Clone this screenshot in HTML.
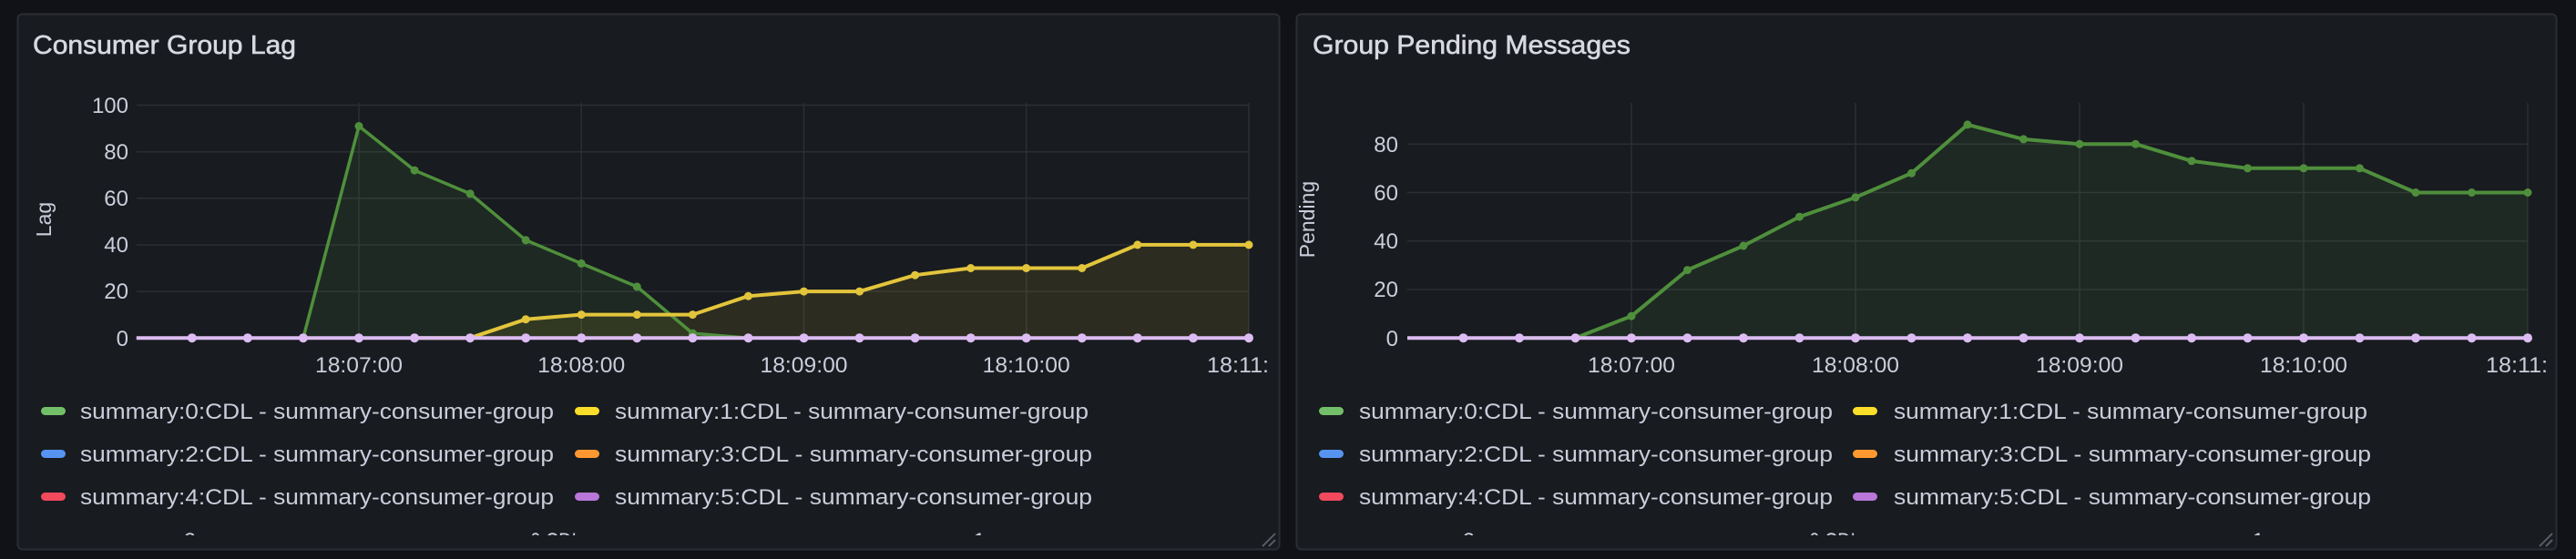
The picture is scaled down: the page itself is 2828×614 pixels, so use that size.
<!DOCTYPE html>
<html><head><meta charset="utf-8"><style>
html,body{margin:0;padding:0;background:#111217;}
svg{display:block;}
text{font-family:"Liberation Sans",sans-serif;fill:#ccccdc;}
.ttl{fill:#d8d9e0;stroke:#d8d9e0;stroke-width:0.6;}
</style></head><body>
<svg width="2828" height="614" viewBox="0 0 2828 614" xmlns="http://www.w3.org/2000/svg">
<defs>
<marker id="mg" viewBox="-6 -6 12 12" markerWidth="12" markerHeight="12" markerUnits="userSpaceOnUse"><circle r="4.5" fill="#4f8f3c"/></marker>
<marker id="my" viewBox="-6 -6 12 12" markerWidth="12" markerHeight="12" markerUnits="userSpaceOnUse"><circle r="4.5" fill="#e3c53c"/></marker>
<marker id="mp" viewBox="-6 -6 12 12" markerWidth="12" markerHeight="12" markerUnits="userSpaceOnUse"><circle r="5" fill="#dcbcf2"/></marker>
<clipPath id="c1"><rect x="20" y="16" width="1384" height="572"/></clipPath>
<clipPath id="c2"><rect x="1424" y="16" width="1382" height="572"/></clipPath>
<clipPath id="xl1"><rect x="0" y="380" width="1392" height="40"/></clipPath>
<clipPath id="xl2"><rect x="1414" y="380" width="1381" height="40"/></clipPath>
</defs>

<rect x="19.5" y="15.5" width="1385" height="588" rx="5" fill="#181b1f" stroke="#2a2d33" stroke-width="2"/>
<rect x="1423.5" y="15.5" width="1383" height="588" rx="5" fill="#181b1f" stroke="#2a2d33" stroke-width="2"/>

<!-- LEFT PANEL -->
<text class="ttl" x="36" y="59" font-size="29" textLength="289" lengthAdjust="spacingAndGlyphs">Consumer Group Lag</text>
<g stroke="#2c2e34" stroke-width="1.5">
<line x1="150" y1="115.5" x2="1371" y2="115.5"/>
<line x1="150" y1="166.7" x2="1371" y2="166.7"/>
<line x1="150" y1="217.8" x2="1371" y2="217.8"/>
<line x1="150" y1="269" x2="1371" y2="269"/>
<line x1="150" y1="320.1" x2="1371" y2="320.1"/>
<line x1="394" y1="113" x2="394" y2="376"/>
<line x1="638.2" y1="113" x2="638.2" y2="376"/>
<line x1="882.5" y1="113" x2="882.5" y2="376"/>
<line x1="1126.7" y1="113" x2="1126.7" y2="376"/>
<line x1="1371" y1="113" x2="1371" y2="376"/>
</g>
<g font-size="24" text-anchor="end">
<text x="141" y="124">100</text>
<text x="141" y="175">80</text>
<text x="141" y="226">60</text>
<text x="141" y="277">40</text>
<text x="141" y="328">20</text>
<text x="141" y="380">0</text>
</g>
<text transform="translate(56,241) rotate(-90)" font-size="23" text-anchor="middle">Lag</text>
<g font-size="24" text-anchor="middle" clip-path="url(#xl1)">
<text x="394" y="409" textLength="96" lengthAdjust="spacingAndGlyphs">18:07:00</text>
<text x="638.2" y="409" textLength="96" lengthAdjust="spacingAndGlyphs">18:08:00</text>
<text x="882.5" y="409" textLength="96" lengthAdjust="spacingAndGlyphs">18:09:00</text>
<text x="1126.7" y="409" textLength="96" lengthAdjust="spacingAndGlyphs">18:10:00</text>
<text x="1373" y="409" textLength="96" lengthAdjust="spacingAndGlyphs">18:11:00</text>
</g>
<polygon fill="rgba(86,166,75,0.10)" points="332.9,371.2 394,138.5 455.1,187.1 516.1,212.7 577.2,263.8 638.2,289.4 699.3,314.9 760.4,366.1 821.5,371.2"/>
<polygon fill="rgba(250,222,42,0.09)" points="516.1,371.2 577.2,350.7 638.2,345.6 699.3,345.6 760.4,345.6 821.5,325.2 882.5,320.1 943.6,320.1 1004.6,302.2 1065.7,294.5 1126.7,294.5 1187.8,294.5 1248.8,268.9 1309.9,268.9 1371,268.9 1371,371.2"/>
<polyline fill="none" stroke="#4f8f3c" stroke-width="3.5" stroke-linejoin="round" marker-mid="url(#mg)" points="149.8,371.2 210.8,371.2 271.9,371.2 332.9,371.2 394,138.5 455.1,187.1 516.1,212.7 577.2,263.8 638.2,289.4 699.3,314.9 760.4,366.1 821.5,371.2 882.5,371.2"/>
<polyline fill="none" stroke="#e3c53c" stroke-width="4" stroke-linejoin="round" marker-mid="url(#my)" marker-end="url(#my)" points="455.1,371.2 516.1,371.2 577.2,350.7 638.2,345.6 699.3,345.6 760.4,345.6 821.5,325.2 882.5,320.1 943.6,320.1 1004.6,302.2 1065.7,294.5 1126.7,294.5 1187.8,294.5 1248.8,268.9 1309.9,268.9 1371,268.9"/>
<polyline fill="none" stroke="#dcbcf2" stroke-width="4" marker-mid="url(#mp)" marker-end="url(#mp)" points="149.8,371.2 210.8,371.2 271.9,371.2 332.9,371.2 394,371.2 455.1,371.2 516.1,371.2 577.2,371.2 638.2,371.2 699.3,371.2 760.4,371.2 821.5,371.2 882.5,371.2 943.6,371.2 1004.6,371.2 1065.7,371.2 1126.7,371.2 1187.8,371.2 1248.8,371.2 1309.9,371.2 1371,371.2"/>
<g clip-path="url(#c1)" font-size="24">
<rect x="45" y="447" width="27" height="9" rx="4.5" fill="#73bf69"/>
<text x="88" y="460" textLength="520" lengthAdjust="spacingAndGlyphs">summary:0:CDL - summary-consumer-group</text>
<rect x="631" y="447" width="27" height="9" rx="4.5" fill="#fade2a"/>
<text x="675" y="460" textLength="520" lengthAdjust="spacingAndGlyphs">summary:1:CDL - summary-consumer-group</text>
<rect x="45" y="494" width="27" height="9" rx="4.5" fill="#5794f2"/>
<text x="88" y="507" textLength="520" lengthAdjust="spacingAndGlyphs">summary:2:CDL - summary-consumer-group</text>
<rect x="631" y="494" width="27" height="9" rx="4.5" fill="#ff9830"/>
<text x="675" y="507" textLength="524" lengthAdjust="spacingAndGlyphs">summary:3:CDL - summary-consumer-group</text>
<rect x="45" y="541" width="27" height="9" rx="4.5" fill="#f2495c"/>
<text x="88" y="554" textLength="520" lengthAdjust="spacingAndGlyphs">summary:4:CDL - summary-consumer-group</text>
<rect x="631" y="541" width="27" height="9" rx="4.5" fill="#b877d9"/>
<text x="675" y="554" textLength="524" lengthAdjust="spacingAndGlyphs">summary:5:CDL - summary-consumer-group</text>
</g>
<svg x="0" y="0" width="1414" height="588"><g font-size="24" style="fill:#9a9aa8">
<text x="88" y="602" textLength="330" lengthAdjust="spacingAndGlyphs">summary:6 - summary-group</text>
<text x="495" y="602" textLength="300" lengthAdjust="spacingAndGlyphs">summary:0:CDL - summary-group</text>
<text x="955" y="602" textLength="330" lengthAdjust="spacingAndGlyphs">summary:1 - summary-group</text>
</g></svg>
<g stroke="#5a5c63" stroke-width="2"><line x1="1386" y1="600" x2="1400" y2="586"/><line x1="1393" y1="600" x2="1400" y2="593"/></g>

<!-- RIGHT PANEL -->
<text class="ttl" x="1441" y="59" font-size="29" textLength="349" lengthAdjust="spacingAndGlyphs">Group Pending Messages</text>
<g stroke="#2c2e34" stroke-width="1.5">
<line x1="1545" y1="158.2" x2="2775" y2="158.2"/>
<line x1="1545" y1="211.5" x2="2775" y2="211.5"/>
<line x1="1545" y1="264.7" x2="2775" y2="264.7"/>
<line x1="1545" y1="318" x2="2775" y2="318"/>
<line x1="1791" y1="113" x2="1791" y2="376"/>
<line x1="2037" y1="113" x2="2037" y2="376"/>
<line x1="2283" y1="113" x2="2283" y2="376"/>
<line x1="2529" y1="113" x2="2529" y2="376"/>
<line x1="2775" y1="113" x2="2775" y2="376"/>
</g>
<g font-size="24" text-anchor="end">
<text x="1535" y="167">80</text>
<text x="1535" y="220">60</text>
<text x="1535" y="273">40</text>
<text x="1535" y="326">20</text>
<text x="1535" y="380">0</text>
</g>
<text transform="translate(1443,241) rotate(-90)" font-size="23" text-anchor="middle">Pending</text>
<g font-size="24" text-anchor="middle" clip-path="url(#xl2)">
<text x="1791" y="409" textLength="96" lengthAdjust="spacingAndGlyphs">18:07:00</text>
<text x="2037" y="409" textLength="96" lengthAdjust="spacingAndGlyphs">18:08:00</text>
<text x="2283" y="409" textLength="96" lengthAdjust="spacingAndGlyphs">18:09:00</text>
<text x="2529" y="409" textLength="96" lengthAdjust="spacingAndGlyphs">18:10:00</text>
<text x="2777" y="409" textLength="96" lengthAdjust="spacingAndGlyphs">18:11:00</text>
</g>
<polygon fill="rgba(86,166,75,0.10)" points="1729.5,371.2 1791,347.2 1852.5,296.6 1914,270 1975.5,238.1 2037,216.8 2098.5,190.2 2160,136.9 2221.5,152.9 2283,158.2 2344.5,158.2 2406,176.8 2467.5,184.8 2529,184.8 2590.5,184.8 2652,211.5 2713.5,211.5 2775,211.5 2775,371.2"/>
<polyline fill="none" stroke="#4f8f3c" stroke-width="4" stroke-linejoin="round" marker-mid="url(#mg)" marker-end="url(#mg)" points="1668,371.2 1729.5,371.2 1791,347.2 1852.5,296.6 1914,270 1975.5,238.1 2037,216.8 2098.5,190.2 2160,136.9 2221.5,152.9 2283,158.2 2344.5,158.2 2406,176.8 2467.5,184.8 2529,184.8 2590.5,184.8 2652,211.5 2713.5,211.5 2775,211.5"/>
<polyline fill="none" stroke="#dcbcf2" stroke-width="4" marker-mid="url(#mp)" marker-end="url(#mp)" points="1545,371.2 1606.5,371.2 1668,371.2 1729.5,371.2 1791,371.2 1852.5,371.2 1914,371.2 1975.5,371.2 2037,371.2 2098.5,371.2 2160,371.2 2221.5,371.2 2283,371.2 2344.5,371.2 2406,371.2 2467.5,371.2 2529,371.2 2590.5,371.2 2652,371.2 2713.5,371.2 2775,371.2"/>
<g clip-path="url(#c2)" font-size="24">
<rect x="1448" y="447" width="27" height="9" rx="4.5" fill="#73bf69"/>
<text x="1492" y="460" textLength="520" lengthAdjust="spacingAndGlyphs">summary:0:CDL - summary-consumer-group</text>
<rect x="2034" y="447" width="27" height="9" rx="4.5" fill="#fade2a"/>
<text x="2079" y="460" textLength="520" lengthAdjust="spacingAndGlyphs">summary:1:CDL - summary-consumer-group</text>
<rect x="1448" y="494" width="27" height="9" rx="4.5" fill="#5794f2"/>
<text x="1492" y="507" textLength="520" lengthAdjust="spacingAndGlyphs">summary:2:CDL - summary-consumer-group</text>
<rect x="2034" y="494" width="27" height="9" rx="4.5" fill="#ff9830"/>
<text x="2079" y="507" textLength="524" lengthAdjust="spacingAndGlyphs">summary:3:CDL - summary-consumer-group</text>
<rect x="1448" y="541" width="27" height="9" rx="4.5" fill="#f2495c"/>
<text x="1492" y="554" textLength="520" lengthAdjust="spacingAndGlyphs">summary:4:CDL - summary-consumer-group</text>
<rect x="2034" y="541" width="27" height="9" rx="4.5" fill="#b877d9"/>
<text x="2079" y="554" textLength="524" lengthAdjust="spacingAndGlyphs">summary:5:CDL - summary-consumer-group</text>
</g>
<svg x="1414" y="0" width="1414" height="588"><g font-size="24" style="fill:#9a9aa8">
<text x="78" y="602" textLength="330" lengthAdjust="spacingAndGlyphs">summary:6 - summary-group</text>
<text x="485" y="602" textLength="300" lengthAdjust="spacingAndGlyphs">summary:0:CDL - summary-group</text>
<text x="945" y="602" textLength="330" lengthAdjust="spacingAndGlyphs">summary:1 - summary-group</text>
</g></svg>
<g stroke="#5a5c63" stroke-width="2"><line x1="2788" y1="600" x2="2802" y2="586"/><line x1="2795" y1="600" x2="2802" y2="593"/></g>
</svg>
</body></html>
